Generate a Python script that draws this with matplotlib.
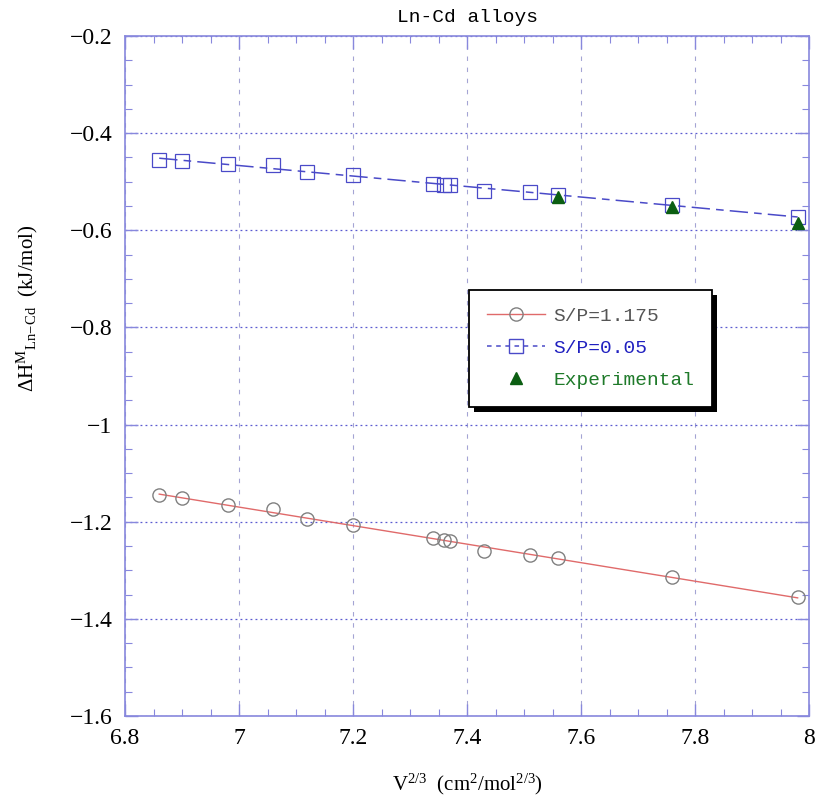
import numpy as np
import matplotlib
matplotlib.use("Agg")
import matplotlib.pyplot as plt
from matplotlib.lines import Line2D
from matplotlib.patches import Rectangle

# ---- data ----
v23 = [6.86, 6.90, 6.98, 7.06, 7.12, 7.20, 7.34, 7.36, 7.37, 7.43, 7.51, 7.56, 7.76, 7.98]
dh_sp1175 = [-1.145, -1.152, -1.166, -1.174, -1.195, -1.207, -1.234, -1.238, -1.240,
             -1.260, -1.268, -1.275, -1.314, -1.356]
dh_sp005 = [-0.455, -0.458, -0.463, -0.466, -0.480, -0.486, -0.504, -0.506, -0.507,
            -0.519, -0.522, -0.527, -0.548, -0.572]
v23_exp = [7.56, 7.76, 7.98]
dh_exp = [-0.531, -0.553, -0.585]
xticks = [6.8, 7.0, 7.2, 7.4, 7.6, 7.8, 8.0]
xticklabels = ["6.8", "7", "7.2", "7.4", "7.6", "7.8", "8"]
yticks = [-1.6, -1.4, -1.2, -1.0, -0.8, -0.6, -0.4, -0.2]
yticklabels = ["\u22121.6", "\u22121.4", "\u22121.2", "\u22121", "\u22120.8", "\u22120.6", "\u22120.4", "\u22120.2"]
labels = ["S/P=1.175", "S/P=0.05", "Experimental"]

plt.rcParams['font.family'] = ['Liberation Serif', 'DejaVu Serif']
plt.rcParams['mathtext.fontset'] = 'custom'
plt.rcParams['mathtext.rm'] = 'Liberation Serif'
plt.rcParams['mathtext.it'] = 'Liberation Serif'

fig = plt.figure(figsize=(8.15, 8.07), dpi=100)
ax = fig.add_axes([0.1534, 0.1128, 0.8393, 0.8426])

spine_c = '#8888dd'
red_c = '#e06a6a'
circ_c = '#808080'
blue_c = '#4a4ac8'
green_c = '#0b5e12'
dash = (0, (12, 4, 5, 4))

x = np.array(v23)
# fitted lines through each model series
p1 = np.polyfit(x, dh_sp1175, 1)
p2 = np.polyfit(x, dh_sp005, 1)
xl = np.array([x.min(), x.max()])
ax.plot(xl, np.polyval(p1, xl), color=red_c, lw=1.0, zorder=3)
ax.plot(xl, np.polyval(p2, xl), color=blue_c, lw=1.1, ls=dash, zorder=3)

ax.plot(v23, dh_sp1175, ls='none', marker='o', ms=9.5, mfc='none', mec=circ_c, mew=1.0, zorder=4)
ax.plot(v23, dh_sp005, ls='none', marker='s', ms=9.5, mfc='none', mec=blue_c, mew=0.9, zorder=4)
ax.plot(v23_exp, dh_exp, ls='none', marker='^', ms=9, mfc=green_c, mec=green_c, zorder=5)

ax.set_xlim(6.8, 8.0)
ax.set_ylim(-1.6, -0.2)
ax.set_xticks(xticks)
ax.set_xticklabels(xticklabels)
ax.set_yticks(yticks)
ax.set_yticklabels(yticklabels)
ax.set_xticks(np.arange(6.8, 8.0001, 0.05), minor=True)
ax.set_yticks(np.arange(-1.6, -0.1999, 0.05), minor=True)

for s in ax.spines.values():
    s.set_color(spine_c)
    s.set_linewidth(1.2)
ax.tick_params(which='both', direction='in', top=True, right=True, colors=spine_c,
               labelcolor='black', labelsize=17)
ax.tick_params(which='major', length=9, width=1.0, pad=9)
ax.tick_params(which='minor', length=5, width=0.8)

ax.xaxis.grid(True, which='major', linestyle=(0, (4, 6)), color='#a4a4d4', lw=0.8)
ax.yaxis.grid(True, which='major', linestyle=(0, (1.5, 2.5)), color='#5a5ad0', lw=0.9)
ax.set_axisbelow(True)

ax.set_title('Ln-Cd alloys', family='Liberation Mono', fontsize=14, pad=10)
ax.set_xlabel(r'V$^{2/3}$  (cm$^{2}$/mol$^{2/3}$)', fontsize=15, labelpad=16)
ax.set_ylabel(r'$\Delta$H$^{\mathrm{M}}$$_{\mathrm{Ln\!-\!Cd}}$  (kJ/mol)', fontsize=15, labelpad=12)
ax.yaxis.set_label_coords(-0.125, 0.6)

handles = [
    Line2D([], [], color=red_c, lw=1.0, marker='o', ms=9.5, mfc='none', mec=circ_c),
    Line2D([], [], color=blue_c, lw=1.1, ls=(0, (3, 3)), marker='s', ms=9.5, mfc='none', mec=blue_c),
    Line2D([], [], ls='none', marker='^', ms=9, mfc=green_c, mec=green_c),
]
leg = ax.legend(handles, labels, loc='upper left', bbox_to_anchor=(0.503, 0.627),
                prop={'family': 'Liberation Mono', 'size': 14}, frameon=True, fancybox=False,
                edgecolor='black', facecolor='white', framealpha=1.0,
                handlelength=3.0, handletextpad=0.45, borderpad=0.9, labelspacing=0.75,
                borderaxespad=0)
leg.get_frame().set_linewidth(1.3)
leg.set_zorder(10)
for t, c in zip(leg.get_texts(), ['#555555', '#2020c0', '#1f7a2a']):
    t.set_color(c)

fig.canvas.draw()
bb = leg.get_window_extent().transformed(fig.transFigure.inverted())
dx, dy = 5 / 815, 5 / 807
sh = Rectangle((bb.x0 + dx, bb.y0 - dy), bb.width, bb.height, transform=fig.transFigure,
               facecolor='black', edgecolor='none', zorder=9)
ax.add_artist(sh)
sh.set_clip_on(False)

fig.savefig('out.png', dpi=100)
